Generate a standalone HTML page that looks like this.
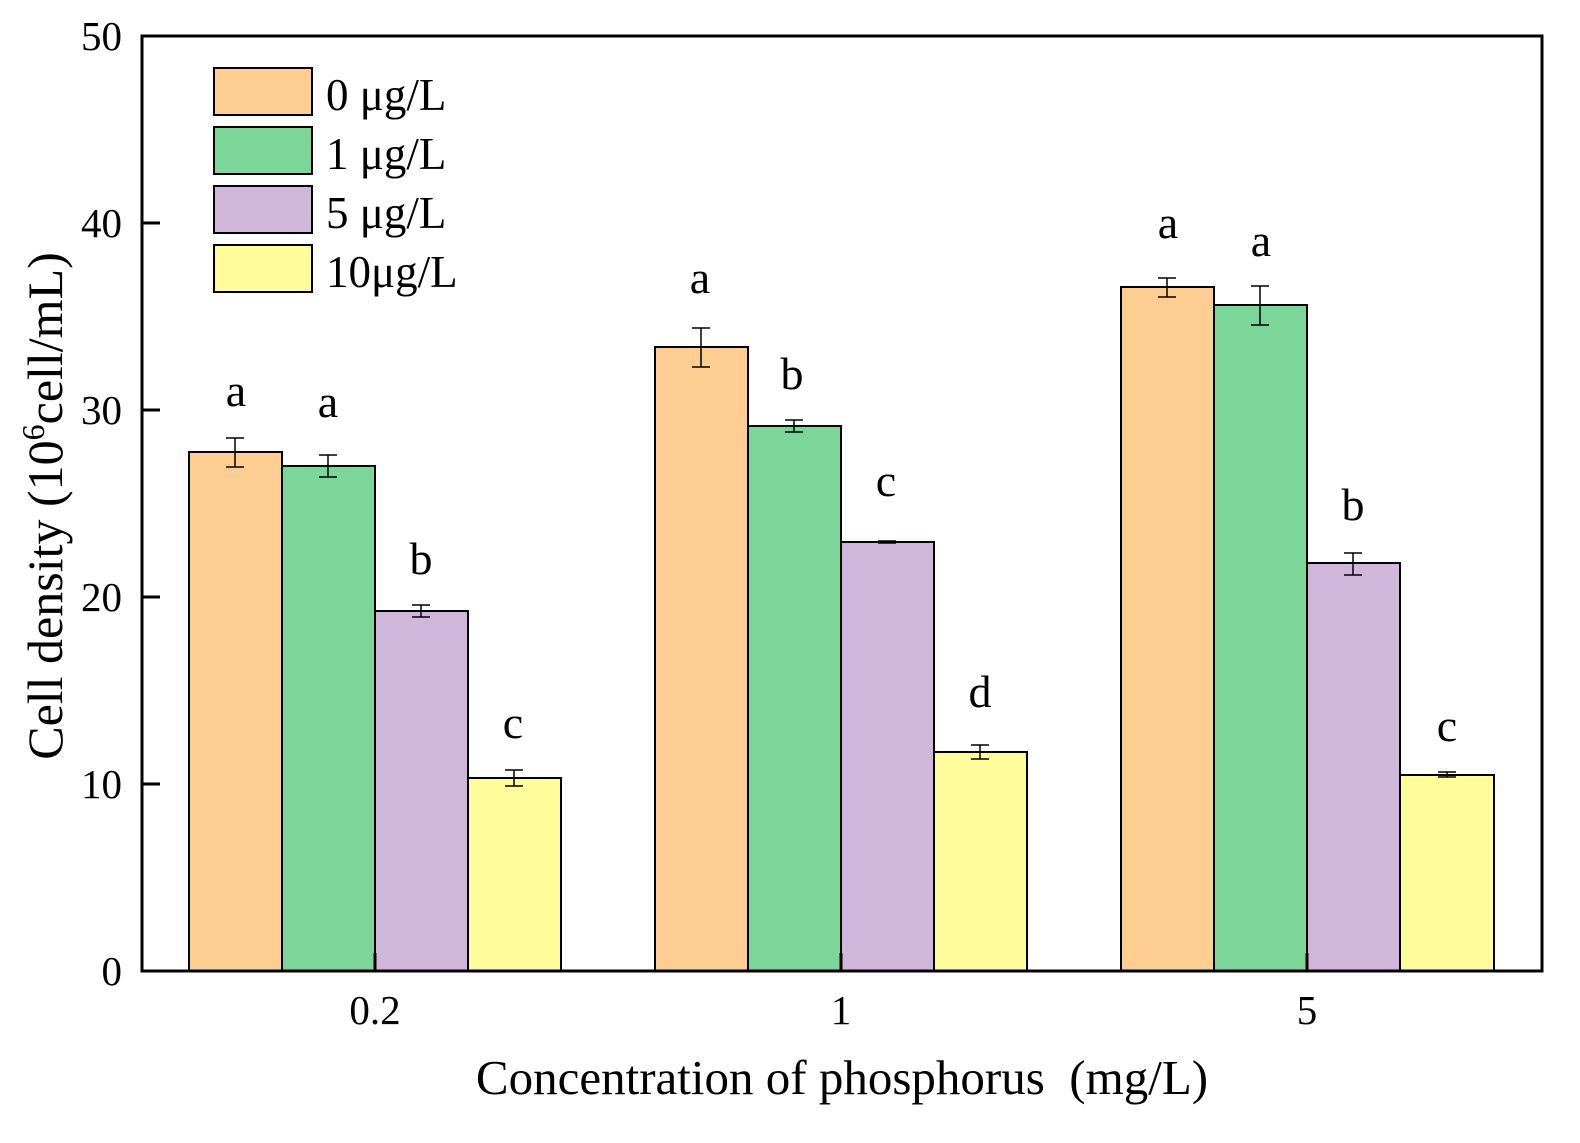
<!DOCTYPE html><html><head><style>body{margin:0;background:#fff}text{font-family:"Liberation Serif",serif;fill:#000}</style></head><body>
<svg width="1580" height="1138" xmlns="http://www.w3.org/2000/svg">
<g stroke="#000" stroke-width="2">
<rect x="189" y="452" width="93" height="519" fill="#FDCD92"/>
<rect x="282" y="466" width="93" height="505" fill="#7DD699"/>
<rect x="375" y="611" width="93" height="360" fill="#CFB6DA"/>
<rect x="468" y="778" width="93" height="193" fill="#FFFC9C"/>
<rect x="655" y="347" width="93" height="624" fill="#FDCD92"/>
<rect x="748" y="426" width="93" height="545" fill="#7DD699"/>
<rect x="841" y="542" width="93" height="429" fill="#CFB6DA"/>
<rect x="934" y="752" width="93" height="219" fill="#FFFC9C"/>
<rect x="1121" y="287" width="93" height="684" fill="#FDCD92"/>
<rect x="1214" y="305" width="93" height="666" fill="#7DD699"/>
<rect x="1307" y="563" width="93" height="408" fill="#CFB6DA"/>
<rect x="1400" y="775" width="94" height="196" fill="#FFFC9C"/>
</g>
<g stroke="#000" stroke-width="1.5" fill="none">
<path d="M235 438V467M226 438H244M226 467H244"/>
<path d="M328 455V477M319 455H337M319 477H337"/>
<path d="M421 605V617M412 605H430M412 617H430"/>
<path d="M514 770V786M505 770H523M505 786H523"/>
<path d="M701 328V367M692 328H710M692 367H710"/>
<path d="M794 420V432M785 420H803M785 432H803"/>
<path d="M887 541V543M878 541H896M878 543H896"/>
<path d="M980 745V759M971 745H989M971 759H989"/>
<path d="M1167 278V297M1158 278H1176M1158 297H1176"/>
<path d="M1260 286V325M1251 286H1269M1251 325H1269"/>
<path d="M1353 553V575M1344 553H1362M1344 575H1362"/>
<path d="M1447 772V777M1438 772H1456M1438 777H1456"/>
</g>
<rect x="142" y="36" width="1400" height="935" fill="none" stroke="#000" stroke-width="3"/>
<g stroke="#000" stroke-width="3">
<path d="M142 784H160M142 597H160M142 410H160M142 223H160M375 971V953M841 971V953M1307 971V953"/>
</g>
<g font-size="41" text-anchor="end">
<text x="122" y="985">0</text><text x="122" y="798">10</text><text x="122" y="611">20</text><text x="122" y="424">30</text><text x="122" y="237">40</text><text x="122" y="50">50</text>
</g>
<g font-size="41" text-anchor="middle">
<text x="375" y="1024">0.2</text><text x="841" y="1024">1</text><text x="1307" y="1024">5</text>
</g>
<g font-size="46" text-anchor="middle">
<text x="236" y="406">a</text><text x="328" y="417">a</text><text x="421" y="574">b</text><text x="513" y="738">c</text>
<text x="700" y="293">a</text><text x="792" y="389">b</text><text x="886" y="496">c</text><text x="980" y="707">d</text>
<text x="1168" y="238">a</text><text x="1261" y="256">a</text><text x="1353" y="520">b</text><text x="1447" y="741">c</text>
</g>
<text x="842" y="1094" font-size="49" text-anchor="middle">Concentration of phosphorus &#160;(mg/L)</text>
<text transform="translate(62,506) rotate(-90)" font-size="50" text-anchor="middle">Cell density (10<tspan font-size="32" dy="-18">6</tspan><tspan dy="18">cell/mL)</tspan></text>
<g stroke="#000" stroke-width="2">
<rect x="214" y="68" width="98" height="47" fill="#FDCD92"/>
<rect x="214" y="127" width="98" height="47" fill="#7DD699"/>
<rect x="214" y="186" width="98" height="47" fill="#CFB6DA"/>
<rect x="214" y="245" width="98" height="47" fill="#FFFC9C"/>
</g>
<g font-size="45">
<text x="326" y="110">0 μg/L</text><text x="326" y="169">1 μg/L</text><text x="326" y="228">5 μg/L</text><text x="326" y="287">10μg/L</text>
</g>
</svg></body></html>
